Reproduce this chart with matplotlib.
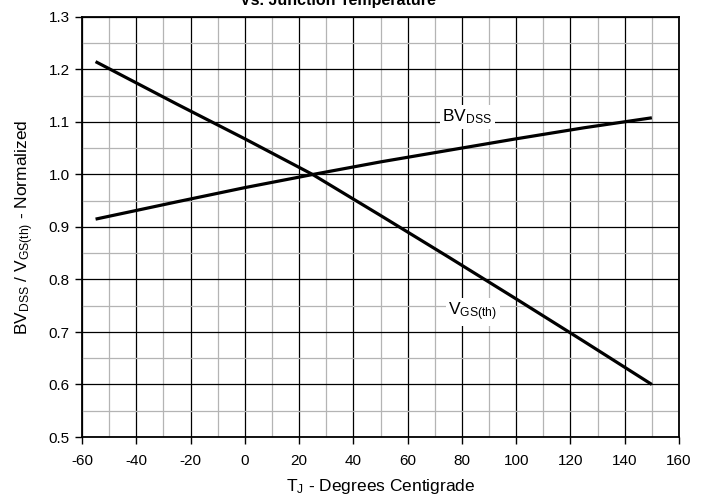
import matplotlib
matplotlib.use("Agg")
import matplotlib.pyplot as plt
from matplotlib.ticker import MultipleLocator

plt.rcParams["font.family"] = ["Liberation Sans", "DejaVu Sans"]
plt.rcParams["mathtext.fontset"] = "custom"
plt.rcParams["mathtext.rm"] = "Liberation Sans"
plt.rcParams["mathtext.it"] = "Liberation Sans"
plt.rcParams["axes.unicode_minus"] = False

# Junction temperature (deg C) and normalized values
temp = [-55, -25, 0, 25, 50, 75, 100, 125, 150]
bv_dss = [0.915, 0.948, 0.975, 1.000, 1.024, 1.046, 1.068, 1.089, 1.108]
vgs_th = [1.215, 1.134, 1.068, 1.000, 0.922, 0.843, 0.763, 0.682, 0.600]

x_ticks = list(range(-60, 161, 20))
y_ticks = [0.5, 0.6, 0.7, 0.8, 0.9, 1.0, 1.1, 1.2, 1.3]

fig = plt.figure(figsize=(7.12, 4.98), dpi=100)
ax = fig.add_axes([82 / 712, 1 - 437 / 498, 597 / 712, 420 / 498])

ax.plot(temp, bv_dss, color="black", lw=2.3, solid_capstyle="butt", zorder=4)
ax.plot(temp, vgs_th, color="black", lw=2.3, solid_capstyle="butt", zorder=4)

ax.set_xlim(-60, 160)
ax.set_ylim(0.5, 1.3)
ax.set_xticks(x_ticks)
ax.set_xticklabels([str(v) for v in x_ticks])
ax.set_yticks(y_ticks)
ax.set_yticklabels([f"{v:.1f}" for v in y_ticks])
ax.xaxis.set_minor_locator(MultipleLocator(10))
ax.yaxis.set_minor_locator(MultipleLocator(0.05))
ax.tick_params(which="major", direction="out", length=5, width=1,
               labelsize=11, color="black")
ax.tick_params(which="minor", length=0)
ax.tick_params(axis="x", pad=7)
ax.tick_params(axis="y", pad=4)

ax.grid(which="major", color="black", lw=0.9, zorder=1)
ax.grid(which="minor", color="#b4b4b4", lw=0.9, zorder=0)
ax.set_axisbelow(True)
for sp in ax.spines.values():
    sp.set_linewidth(1.3)

box = dict(facecolor="white", edgecolor="none", pad=2)
ax.text(82, 1.110, r"BV$_\mathregular{DSS}$", fontsize=12.5,
        ha="center", va="center", bbox=box, zorder=5)
ax.text(84, 0.738, r"V$_\mathregular{GS(th)}$", fontsize=12.5,
        ha="center", va="center", bbox=box, zorder=5)

ax.set_xlabel(r"T$_\mathregular{J}$ - Degrees Centigrade", fontsize=12.5, labelpad=7)
ax.set_ylabel(r"BV$_\mathregular{DSS}$ / V$_\mathregular{GS(th)}$ - Normalized",
              fontsize=12.5, labelpad=9)

fig.text(338 / 712, 1 - 5 / 498, "Vs. Junction Temperature",
         fontsize=11.5, fontweight="bold", ha="center", va="baseline")

fig.savefig("out.png", dpi=100)
